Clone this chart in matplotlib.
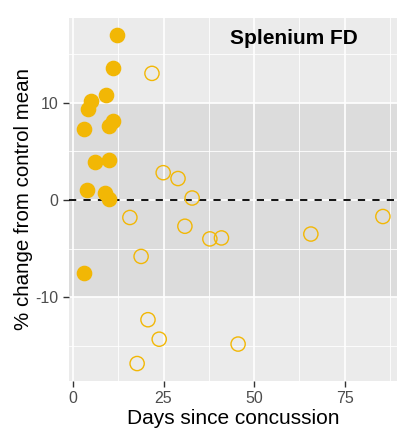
import numpy as np
import matplotlib.pyplot as plt
from matplotlib.ticker import MultipleLocator

plt.rcParams['font.family'] = ['Liberation Sans', 'DejaVu Sans']

# acute (filled) points
dias_agudo = [12.2, 11.0, 9.1, 5.0, 4.1, 3.0, 11.0, 9.9, 6.1, 9.9, 3.9, 8.8, 9.9, 3.0]
cambio_agudo = [16.9, 13.6, 10.8, 10.2, 9.3, 7.3, 8.1, 7.6, 3.9, 4.1, 1.0, 0.7, 0.1, -7.5]

# later (open) points
dias_tardio = [21.8, 24.9, 29.0, 32.9, 15.7, 30.9, 37.8, 41.0, 65.7, 85.6, 18.8, 20.7, 23.8, 45.6, 17.7]
cambio_tardio = [13.0, 2.8, 2.2, 0.2, -1.8, -2.7, -4.0, -3.9, -3.5, -1.7, -5.8, -12.3, -14.3, -14.8, -16.8]

xticks = [0, 25, 50, 75]
yticks = [-10, 0, 10]
ylabels = ["-10", "0", "10"]

oro = "#F2B705"

fig = plt.figure(figsize=(3.97, 4.36), dpi=100)
ax = fig.add_axes([0.174, 0.126, 0.826, 0.833])
ax.set_facecolor("#ebebeb")
ax.axhspan(-10, 10, color="#dcdcdc", zorder=0.2, lw=0)

ax.set_axisbelow(True)
ax.grid(True, which="major", color="white", lw=1.2)
ax.grid(True, which="minor", color="white", lw=0.6)
ax.xaxis.set_minor_locator(MultipleLocator(12.5))
ax.yaxis.set_minor_locator(MultipleLocator(5))

ax.axhline(0, color="black", lw=1.3, ls=(0, (4, 4)), zorder=2)

ax.scatter(dias_agudo, cambio_agudo, s=105, color=oro, edgecolors=oro, zorder=3)
ax.scatter(dias_tardio, cambio_tardio, s=105, facecolors="none", edgecolors=oro,
           linewidths=1.0, zorder=3)

ax.set_xlim(-1.1, 89.5)
ax.set_ylim(-18.6, 18.7)
ax.set_xticks(xticks)
ax.set_yticks(yticks)
ax.set_yticklabels(ylabels)
ax.tick_params(which="major", length=4, width=1, color="#333333",
               labelsize=11.5, labelcolor="#4d4d4d")
ax.tick_params(which="minor", length=0)
for s in ax.spines.values():
    s.set_visible(False)

ax.set_xlabel("Days since concussion", fontsize=15, labelpad=2)
ax.set_ylabel("% change from control mean", fontsize=14.8, labelpad=2)

ax.text(0.88, 0.97, "Splenium FD", transform=ax.transAxes, ha="right", va="top",
        fontsize=15, fontweight="bold")

fig.savefig("out.png", dpi=100)
